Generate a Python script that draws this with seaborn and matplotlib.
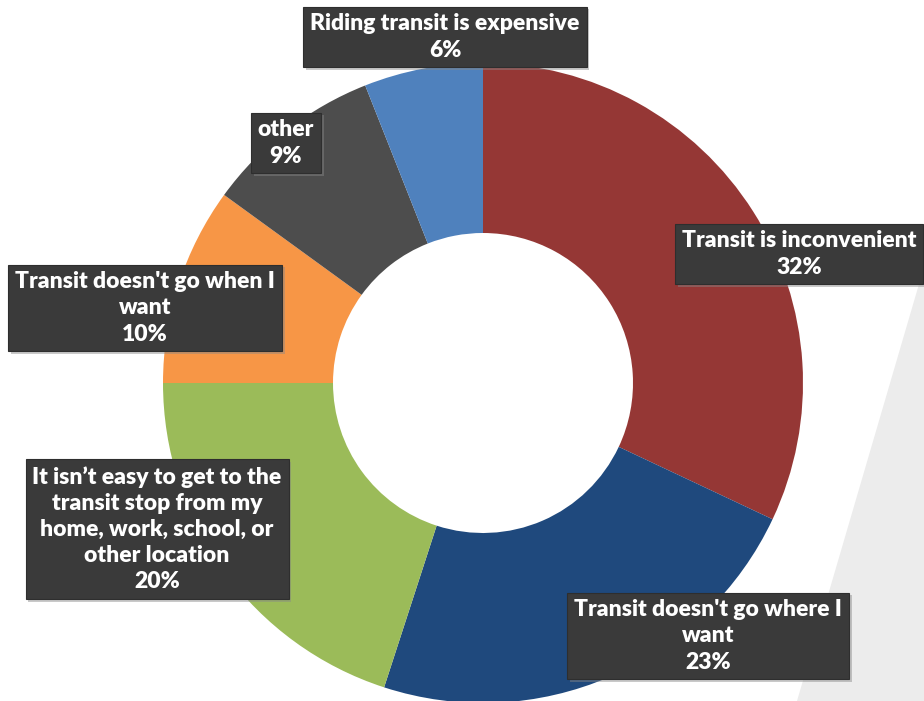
import matplotlib.pyplot as plt
import seaborn as sns
from matplotlib import patheffects as pe
from matplotlib.patches import Polygon

# survey answers, clockwise from 12 o'clock
reasons = [
    "Transit is inconvenient",
    "Transit doesn't go where I\nwant",
    "It isn\u2019t easy to get to the\ntransit stop from my\nhome, work, school, or\nother location",
    "Transit doesn't go when I\nwant",
    "other",
    "Riding transit is expensive",
]
shares = [32, 23, 20, 10, 9, 6]
colors = ["#953735", "#1f497d", "#9bbb59", "#f79646", "#4d4d4d", "#4f81bd"]

# where each callout box sits (pixel coords, y down)
label_pos = [(799, 254), (708, 636), (157, 529), (145, 308), (286, 143), (445, 37)]

sns.set_theme(style="white")
plt.rcParams["font.family"] = ["Lato", "DejaVu Sans"]

W, H = 924, 701
fig = plt.figure(figsize=(W / 100, H / 100), dpi=100)
ax = fig.add_axes([0, 0, 1, 1])
ax.set_xlim(0, W)
ax.set_ylim(H, 0)
ax.set_aspect("equal")
ax.axis("off")

# light grey backdrop at the right edge
ax.add_patch(Polygon([(924, 267), (924, 701), (797, 701)], closed=True,
                     fc="#ececec", ec="none", zorder=0))

cx, cy, r = 483, 383, 320
wedges, _ = ax.pie(shares, colors=colors, startangle=90, counterclock=False,
                   center=(cx, cy), radius=r,
                   wedgeprops=dict(width=170, linewidth=0))
# axis is flipped in y, so mirror the wedges back
for w in wedges:
    w.set_center((cx, cy))
    th1, th2 = w.theta1, w.theta2
    w.set_theta1(-th2)
    w.set_theta2(-th1)
ax.set_xlim(0, W)
ax.set_ylim(H, 0)

for name, pct, (x, y) in zip(reasons, shares, label_pos):
    t = ax.text(x, y, f"{name}\n{pct}%", ha="center", va="center",
                color="white", fontsize=16.5, fontweight="heavy",
                linespacing=1.3, zorder=5,
                bbox=dict(boxstyle="square,pad=0.3", fc="#3a3a3a", ec="#2e2e2e", lw=0.8))
    t.get_bbox_patch().set_path_effects(
        [pe.SimplePatchShadow(offset=(2, -2), shadow_rgbFace="#888888", alpha=0.45), pe.Normal()])

fig.savefig("out.png", dpi=100)
